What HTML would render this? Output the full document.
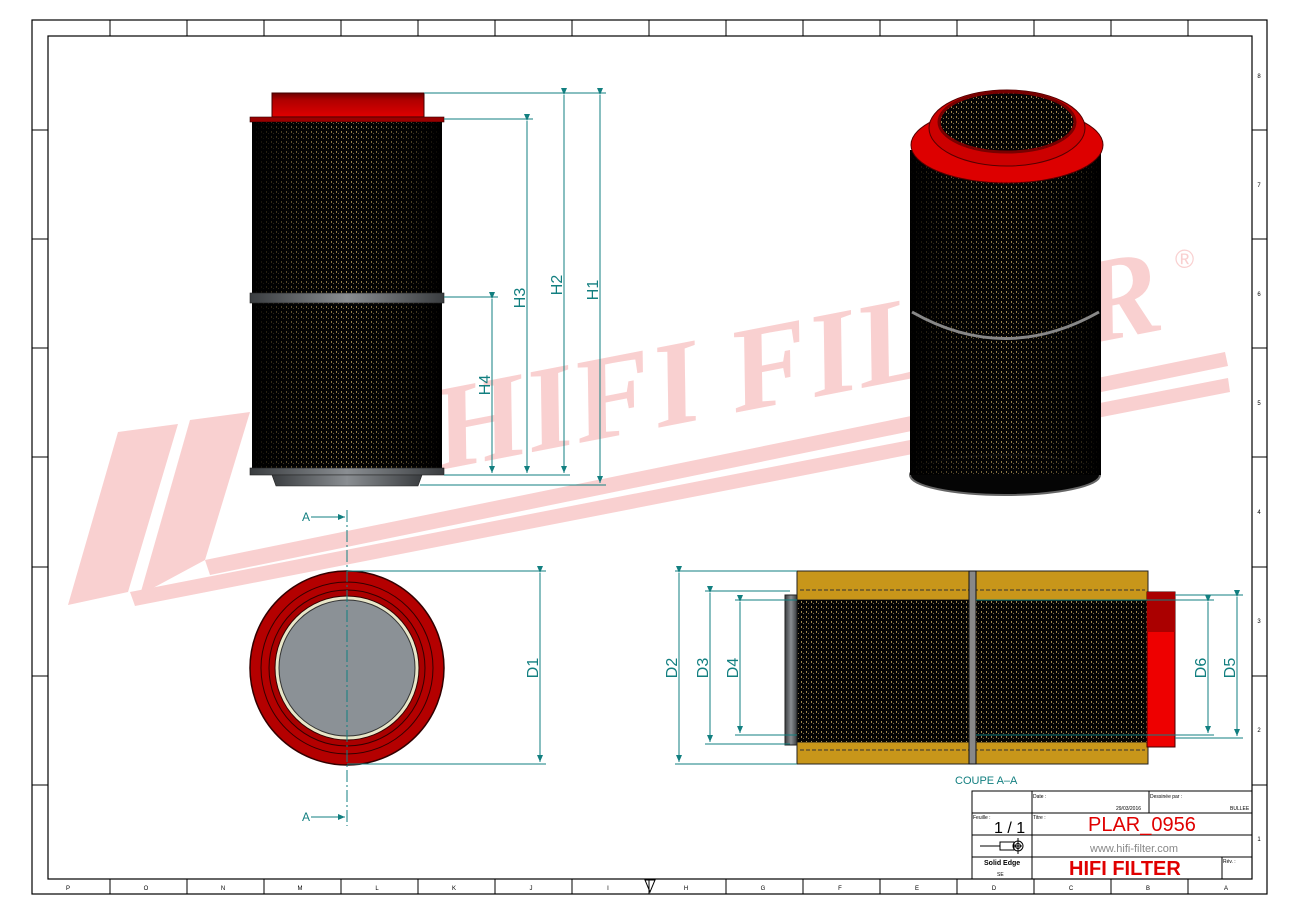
<!DOCTYPE html>
<html><head><meta charset="utf-8"><style>
html,body{margin:0;padding:0;background:#fff;width:1300px;height:918px;overflow:hidden}
svg{display:block;font-family:"Liberation Sans",sans-serif}
</style></head><body>
<svg width="1300" height="918" viewBox="0 0 1300 918" xmlns="http://www.w3.org/2000/svg">
<defs>
<pattern id="mesh" width="5" height="5" patternUnits="userSpaceOnUse">
<rect width="5" height="5" fill="#050505"/>
<rect x="1" y="1" width="1" height="2" fill="#a08850"/>
<rect x="3" y="3" width="1" height="1" fill="#7d6a40"/>
</pattern>
<linearGradient id="bodyg" x1="0" x2="1">
<stop offset="0" stop-color="#000" stop-opacity="1"/>
<stop offset="0.2" stop-color="#000" stop-opacity="0.4"/>
<stop offset="0.5" stop-color="#000" stop-opacity="0"/>
<stop offset="0.8" stop-color="#000" stop-opacity="0.4"/>
<stop offset="1" stop-color="#000" stop-opacity="1"/>
</linearGradient>
<linearGradient id="grayg" x1="0" x2="1">
<stop offset="0" stop-color="#3a3d40"/><stop offset="0.5" stop-color="#8a8e92"/><stop offset="1" stop-color="#3a3d40"/>
</linearGradient>
<linearGradient id="redv" x1="0" x2="0" y1="0" y2="1">
<stop offset="0" stop-color="#6a0000"/><stop offset="0.3" stop-color="#b00000"/><stop offset="1" stop-color="#e00000"/>
</linearGradient>
<marker id="ar" markerWidth="8" markerHeight="8" refX="7" refY="3" orient="auto"><path d="M0,0 L7,3 L0,6z" fill="#127f80"/></marker>
</defs>

<!-- watermark -->
<g fill="#f9d0d0">
<polygon points="68,605 118,432 178,424 128,592"/>
<polygon points="140,595 190,420 250,412 205,560"/>
<polygon points="130,592 1228,378 1230,392 135,606"/>
<polygon points="205,560 1225,352 1228,366 210,575"/>
<text x="0" y="0" font-family="Liberation Serif,serif" font-weight="bold" font-style="italic" font-size="120" transform="translate(440,470) rotate(-11)" textLength="740" lengthAdjust="spacingAndGlyphs">HIFI FILTER</text>
<text x="1175" y="268" font-size="26">®</text>
</g>

<!-- frame -->
<rect x="32" y="20" width="1235" height="874" fill="none" stroke="#000" stroke-width="1.2"/>
<rect x="48" y="36" width="1204" height="843" fill="none" stroke="#000" stroke-width="1.2"/>
<g stroke="#000" stroke-width="1">
<line x1="110" y1="20" x2="110" y2="36"/><line x1="187" y1="20" x2="187" y2="36"/><line x1="264" y1="20" x2="264" y2="36"/><line x1="341" y1="20" x2="341" y2="36"/><line x1="418" y1="20" x2="418" y2="36"/><line x1="495" y1="20" x2="495" y2="36"/><line x1="572" y1="20" x2="572" y2="36"/><line x1="649" y1="20" x2="649" y2="36"/><line x1="726" y1="20" x2="726" y2="36"/><line x1="803" y1="20" x2="803" y2="36"/><line x1="880" y1="20" x2="880" y2="36"/><line x1="957" y1="20" x2="957" y2="36"/><line x1="1034" y1="20" x2="1034" y2="36"/><line x1="1111" y1="20" x2="1111" y2="36"/><line x1="1188" y1="20" x2="1188" y2="36"/>
<line x1="110" y1="879" x2="110" y2="894"/><line x1="187" y1="879" x2="187" y2="894"/><line x1="264" y1="879" x2="264" y2="894"/><line x1="341" y1="879" x2="341" y2="894"/><line x1="418" y1="879" x2="418" y2="894"/><line x1="495" y1="879" x2="495" y2="894"/><line x1="572" y1="879" x2="572" y2="894"/><line x1="649" y1="879" x2="649" y2="894"/><line x1="726" y1="879" x2="726" y2="894"/><line x1="803" y1="879" x2="803" y2="894"/><line x1="880" y1="879" x2="880" y2="894"/><line x1="957" y1="879" x2="957" y2="894"/><line x1="1034" y1="879" x2="1034" y2="894"/><line x1="1111" y1="879" x2="1111" y2="894"/><line x1="1188" y1="879" x2="1188" y2="894"/>
<line x1="32" y1="130" x2="48" y2="130"/><line x1="32" y1="239" x2="48" y2="239"/><line x1="32" y1="348" x2="48" y2="348"/><line x1="32" y1="457" x2="48" y2="457"/><line x1="32" y1="567" x2="48" y2="567"/><line x1="32" y1="676" x2="48" y2="676"/><line x1="32" y1="785" x2="48" y2="785"/>
<line x1="1252" y1="130" x2="1267" y2="130"/><line x1="1252" y1="239" x2="1267" y2="239"/><line x1="1252" y1="348" x2="1267" y2="348"/><line x1="1252" y1="457" x2="1267" y2="457"/><line x1="1252" y1="567" x2="1267" y2="567"/><line x1="1252" y1="676" x2="1267" y2="676"/><line x1="1252" y1="785" x2="1267" y2="785"/>
</g>
<g font-size="6" fill="#000" text-anchor="middle">
<text x="68" y="890">P</text><text x="146" y="890">O</text><text x="223" y="890">N</text><text x="300" y="890">M</text><text x="377" y="890">L</text><text x="454" y="890">K</text><text x="531" y="890">J</text><text x="608" y="890">I</text><text x="686" y="890">H</text><text x="763" y="890">G</text><text x="840" y="890">F</text><text x="917" y="890">E</text><text x="994" y="890">D</text><text x="1071" y="890">C</text><text x="1148" y="890">B</text><text x="1226" y="890">A</text>
<text x="1259" y="78">8</text><text x="1259" y="187">7</text><text x="1259" y="296">6</text><text x="1259" y="405">5</text><text x="1259" y="514">4</text><text x="1259" y="623">3</text><text x="1259" y="732">2</text><text x="1259" y="841">1</text>
</g>
<polygon points="645,880 655,880 650,892" fill="none" stroke="#000"/>

<!-- FRONT VIEW -->
<rect x="272" y="93" width="152" height="24" fill="url(#redv)" stroke="#400" stroke-width="1"/>
<rect x="250" y="117" width="194" height="5" fill="#900" stroke="#300" stroke-width="0.6"/>
<rect x="252" y="122" width="190" height="172" fill="url(#mesh)"/>
<rect x="252" y="303" width="190" height="166" fill="url(#mesh)"/>
<rect x="252" y="122" width="190" height="347" fill="url(#bodyg)"/>
<rect x="250" y="293" width="194" height="10" fill="url(#grayg)" stroke="#222" stroke-width="0.6"/>
<rect x="250" y="468" width="194" height="7" fill="url(#grayg)" stroke="#222" stroke-width="0.6"/>
<polygon points="272,475 422,475 418,486 276,486" fill="url(#grayg)" stroke="#222" stroke-width="0.6"/>

<g stroke="#127f80" stroke-width="1" fill="none">
<line x1="424" y1="93" x2="606" y2="93"/><line x1="444" y1="119" x2="533" y2="119"/><line x1="444" y1="297" x2="498" y2="297"/>
<line x1="444" y1="475" x2="570" y2="475"/><line x1="420" y1="485" x2="606" y2="485"/>
<line x1="600" y1="95" x2="600" y2="483" marker-start="url(#ar)" marker-end="url(#ar)"/>
<line x1="564" y1="95" x2="564" y2="473" marker-start="url(#ar)" marker-end="url(#ar)"/>
<line x1="527" y1="121" x2="527" y2="473" marker-start="url(#ar)" marker-end="url(#ar)"/>
<line x1="492" y1="299" x2="492" y2="473" marker-start="url(#ar)" marker-end="url(#ar)"/>
</g>
<g fill="#127f80" font-size="16" text-anchor="middle">
<text transform="translate(598,290) rotate(-90)">H1</text>
<text transform="translate(562,285) rotate(-90)">H2</text>
<text transform="translate(525,298) rotate(-90)">H3</text>
<text transform="translate(490,385) rotate(-90)">H4</text>
</g>

<!-- 3D VIEW -->
<rect x="910" y="150" width="191" height="325" fill="url(#mesh)"/>
<rect x="910" y="150" width="191" height="325" fill="url(#bodyg)"/>
<ellipse cx="1005" cy="475" rx="95" ry="20" fill="#050505" stroke="#666" stroke-width="2"/>
<rect x="910" y="300" width="191" height="175" fill="url(#mesh)" opacity="0.9"/>
<rect x="910" y="300" width="191" height="175" fill="url(#bodyg)"/>
<path d="M912,312 Q1005,365 1099,312" fill="none" stroke="#888" stroke-width="3"/>
<ellipse cx="1007" cy="145" rx="96" ry="38" fill="#d00" stroke="#500" stroke-width="1"/>
<ellipse cx="1007" cy="128" rx="78" ry="38" fill="#c00" stroke="#500"/>
<ellipse cx="1007" cy="122" rx="68" ry="30" fill="url(#mesh)" stroke="#700" stroke-width="3"/>

<!-- BOTTOM VIEW -->
<circle cx="347" cy="668" r="97" fill="#b40000" stroke="#300" stroke-width="1.5"/>
<circle cx="347" cy="668" r="86" fill="none" stroke="#300" stroke-width="1"/>
<circle cx="347" cy="668" r="78" fill="#a00" stroke="#300" stroke-width="1"/>
<circle cx="347" cy="668" r="72" fill="#e8e6c8" stroke="#300"/>
<circle cx="347" cy="668" r="68" fill="#8b9196" stroke="#333"/>
<g stroke="#127f80" stroke-width="1" fill="none">
<line x1="347" y1="510" x2="347" y2="826" stroke-dasharray="12,3,2,3"/>
<line x1="311" y1="517" x2="345" y2="517" marker-end="url(#ar)"/>
<line x1="311" y1="817" x2="345" y2="817" marker-end="url(#ar)"/>
<line x1="347" y1="571" x2="546" y2="571"/><line x1="347" y1="764" x2="546" y2="764"/>
<line x1="540" y1="573" x2="540" y2="762" marker-start="url(#ar)" marker-end="url(#ar)"/>
</g>
<g fill="#127f80" font-size="12"><text x="302" y="521">A</text><text x="302" y="821">A</text></g>
<text transform="translate(538,668) rotate(-90)" fill="#127f80" font-size="16" text-anchor="middle">D1</text>

<!-- SECTION VIEW -->
<rect x="797" y="571" width="351" height="29" fill="#c8961a" stroke="#222" stroke-width="1"/>
<rect x="797" y="742" width="351" height="22" fill="#c8961a" stroke="#222" stroke-width="1"/>
<line x1="800" y1="590" x2="1145" y2="590" stroke="#333" stroke-dasharray="4,2"/>
<line x1="800" y1="750" x2="1145" y2="750" stroke="#333" stroke-dasharray="4,2"/>
<rect x="797" y="600" width="351" height="142" fill="url(#mesh)"/>
<rect x="785" y="595" width="12" height="150" fill="url(#grayg)" stroke="#222"/>
<rect x="969" y="571" width="7" height="193" fill="#888" stroke="#111"/>
<rect x="1147" y="592" width="28" height="155" fill="#e00" stroke="#400"/>
<rect x="1147" y="592" width="28" height="40" fill="#a00"/>
<g stroke="#127f80" stroke-width="1" fill="none">
<line x1="675" y1="571" x2="797" y2="571"/><line x1="675" y1="764" x2="797" y2="764"/>
<line x1="705" y1="591" x2="790" y2="591"/><line x1="705" y1="744" x2="790" y2="744"/>
<line x1="735" y1="600" x2="797" y2="600"/><line x1="735" y1="735" x2="797" y2="735"/>
<line x1="976" y1="600" x2="1214" y2="600"/><line x1="976" y1="735" x2="1214" y2="735"/>
<line x1="1175" y1="595" x2="1243" y2="595"/><line x1="1175" y1="738" x2="1243" y2="738"/>
<line x1="679" y1="573" x2="679" y2="762" marker-start="url(#ar)" marker-end="url(#ar)"/>
<line x1="710" y1="593" x2="710" y2="742" marker-start="url(#ar)" marker-end="url(#ar)"/>
<line x1="740" y1="602" x2="740" y2="733" marker-start="url(#ar)" marker-end="url(#ar)"/>
<line x1="1208" y1="602" x2="1208" y2="733" marker-start="url(#ar)" marker-end="url(#ar)"/>
<line x1="1237" y1="597" x2="1237" y2="736" marker-start="url(#ar)" marker-end="url(#ar)"/>
</g>
<g fill="#127f80" font-size="16" text-anchor="middle">
<text transform="translate(677,668) rotate(-90)">D2</text>
<text transform="translate(708,668) rotate(-90)">D3</text>
<text transform="translate(738,668) rotate(-90)">D4</text>
<text transform="translate(1206,668) rotate(-90)">D6</text>
<text transform="translate(1235,668) rotate(-90)">D5</text>
</g>
<text x="955" y="784" fill="#127f80" font-size="11">COUPE A–A</text>

<!-- TITLE BLOCK -->
<g stroke="#000" stroke-width="1" fill="none">
<rect x="972" y="791" width="280" height="88"/>
<line x1="972" y1="813" x2="1252" y2="813"/><line x1="972" y1="835" x2="1252" y2="835"/><line x1="972" y1="857" x2="1252" y2="857"/>
<line x1="1032" y1="791" x2="1032" y2="879"/><line x1="1149" y1="791" x2="1149" y2="813"/><line x1="1222" y1="857" x2="1222" y2="879"/>
<line x1="980" y1="846" x2="1000" y2="846"/><rect x="1000" y="842" width="14" height="8"/><line x1="1014" y1="846" x2="1022" y2="846"/>
<circle cx="1018" cy="846" r="5"/><circle cx="1018" cy="846" r="2.5"/><line x1="1018" y1="838" x2="1018" y2="854"/>
</g>
<g fill="#000" font-size="5">
<text x="1033" y="798">Date :</text><text x="1150" y="798">Dessinée par :</text><text x="973" y="819">Feuille :</text><text x="1033" y="819">Titre :</text><text x="1223" y="863">Rév. :</text>
<text x="1116" y="810">29/03/2016</text><text x="1230" y="810">BULLEE</text>
<text x="984" y="865" font-weight="bold" font-size="7">Solid Edge</text><text x="997" y="876">SE</text>
</g>
<text x="994" y="833" font-size="16" fill="#000">1 / 1</text>
<text x="1088" y="831" font-size="20" fill="#e00000">PLAR_0956</text>
<text x="1090" y="852" font-size="11" fill="#888">www.hifi-filter.com</text>
<text x="1069" y="875" font-size="20" font-weight="bold" fill="#e00000">HIFI FILTER</text>
</svg>
</body></html>
